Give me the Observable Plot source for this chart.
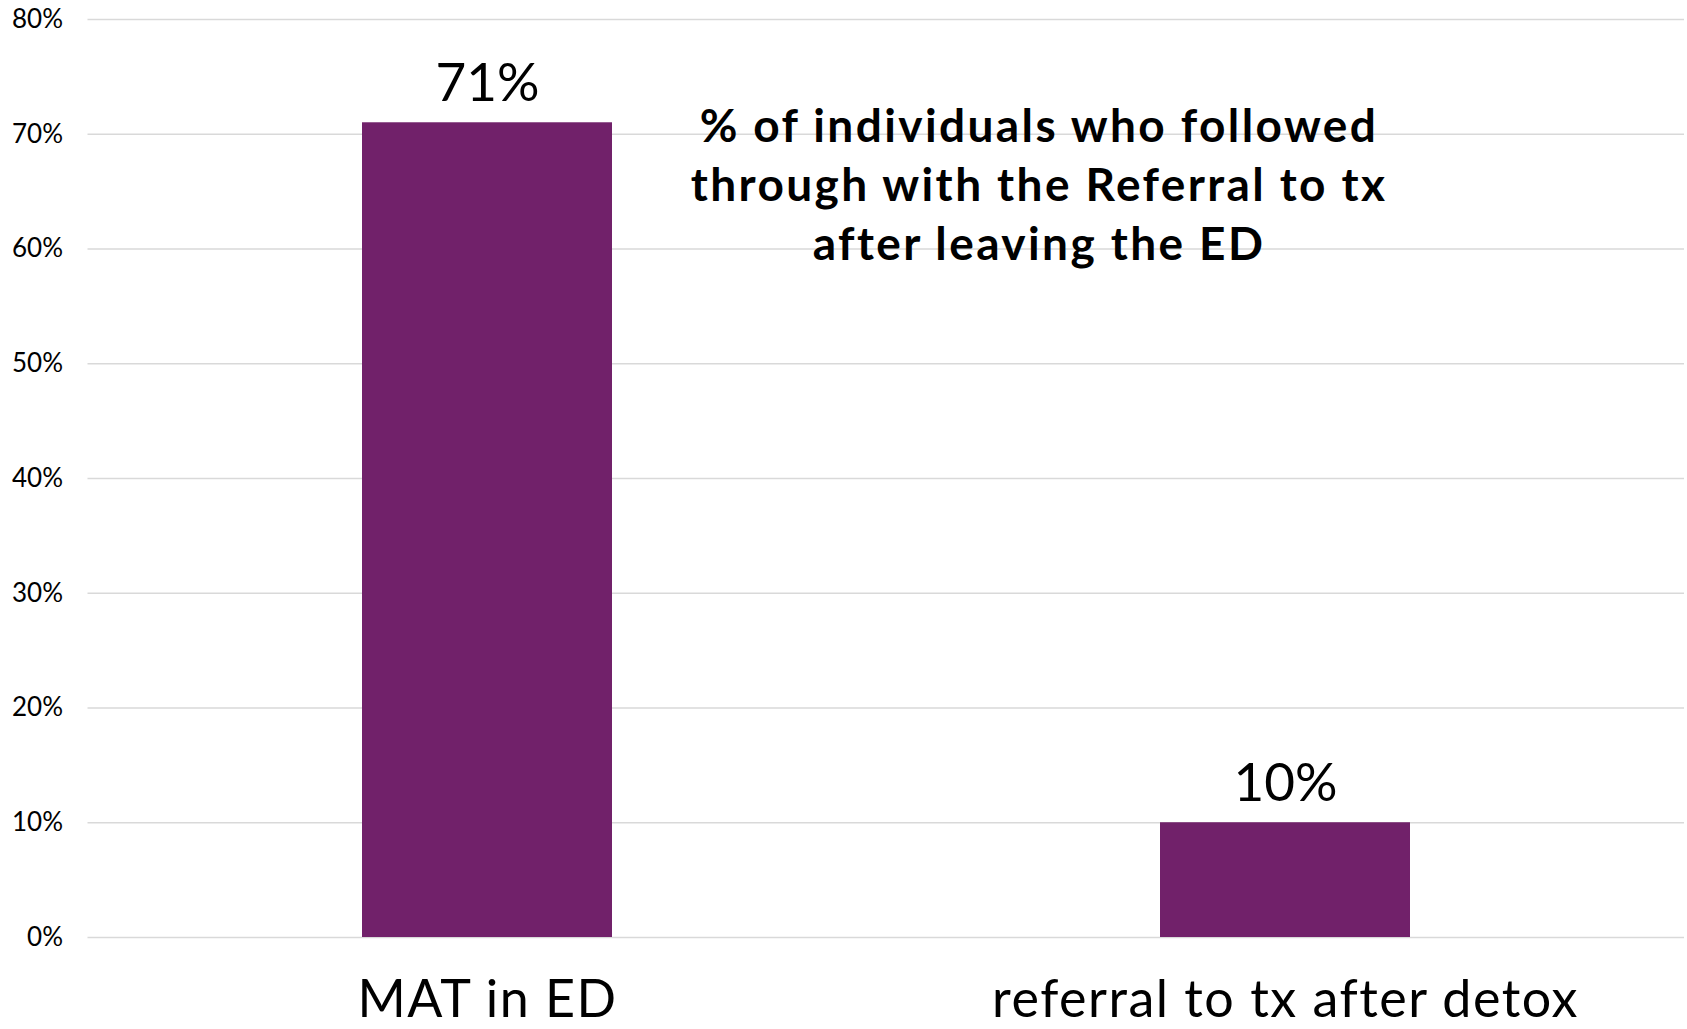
<!DOCTYPE html>
<html>
<head>
<meta charset="utf-8">
<script src="https://cdn.jsdelivr.net/npm/d3@7"></script>
<script src="https://cdn.jsdelivr.net/npm/@observablehq/plot@0.6"></script>
<style>
  html, body { margin: 0; padding: 0; background: #fff; }
  #chart svg { display: block; }
  .title-text text { letter-spacing: 2.4px; }
  .cat-axis text { letter-spacing: 1.5px; }
</style>
</head>
<body>
<div id="chart"></div>
<script>
const categories = ["MAT in ED", "referral to tx after detox"];
const values = [0.71, 0.10];
const yTicks = [0, 0.1, 0.2, 0.3, 0.4, 0.5, 0.6, 0.7, 0.8];
const titleLines = ["% of individuals who followed", "through with the Referral to tx", "after leaving the ED"];

const data = categories.map((c, i) => ({category: c, value: values[i]}));
const FONT = "'Century Gothic', Lato, sans-serif";
const barColor = "#71216A";
const gridColor = "#d9d9d9";

const chart = Plot.plot({
  width: 1687,
  height: 1029,
  marginLeft: 87.5,
  marginRight: 3,
  marginTop: 19,
  marginBottom: 92,
  style: {fontFamily: FONT, color: "#000", background: "#fff"},
  x: {domain: categories, paddingInner: 0.687, paddingOuter: 0.3435, label: null},
  y: {domain: [0, 0.8], label: null},
  marks: [
    Plot.gridY(yTicks, {stroke: gridColor, strokeOpacity: 1, strokeWidth: 1.5}),
    Plot.axisY(yTicks, {tickSize: 0, tickPadding: 25, fontSize: 26, tickFormat: d3.format(".0%"), label: null}),
    Plot.barY(data, {x: "category", y: "value", fill: barColor}),
    Plot.text(data, {x: "category", y: "value", text: d => d3.format(".0%")(d.value), lineAnchor: "bottom", dy: -22, fontSize: 53, fill: "#000"}),
    Plot.axisX({tickSize: 0, tickPadding: 43, fontSize: 52, label: null, className: "cat-axis"}),
    Plot.text([titleLines.join("\n")], {frameAnchor: "top", lineAnchor: "top", dx: 152.75, dy: 81, lineHeight: 1.28, fontSize: 46, fontWeight: "bold", fill: "#000", textAnchor: "middle", className: "title-text"})
  ]
});
document.getElementById("chart").appendChild(chart);
</script>
</body>
</html>
